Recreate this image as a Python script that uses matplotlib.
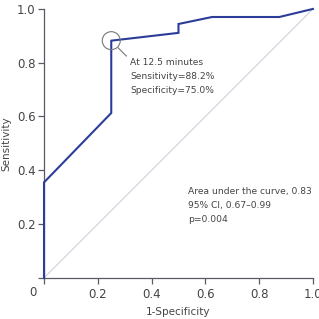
import matplotlib
matplotlib.use('Agg')
import matplotlib.pyplot as plt
from matplotlib.patches import Ellipse

# ROC curve points (1-specificity, sensitivity)
fpr = [0.0, 0.0, 0.25, 0.25, 0.5, 0.5, 0.625, 0.875, 1.0]
tpr = [0.0, 0.355, 0.613, 0.882, 0.911, 0.944, 0.970, 0.970, 1.0]

cut_x, cut_y = 0.25, 0.882
cut_text = ['At 12.5 minutes', 'Sensitivity=88.2%', 'Specificity=75.0%']
auc_text = ['Area under the curve, 0.83', '95% CI, 0.67\u20130.99', 'p=0.004']

x_ticks = [0, 0.2, 0.4, 0.6, 0.8, 1.0]
x_labels = ['', '0.2', '0.4', '0.6', '0.8', '1.0']
y_ticks = [0, 0.2, 0.4, 0.6, 0.8, 1.0]
y_labels = ['', '0.2', '0.4', '0.6', '0.8', '1.0']

plt.rc('font', family='DejaVu Sans', size=7)
txt_col = '#444444'
ax_col = '#5a5a66'

fig = plt.figure(figsize=(3.19, 3.19), dpi=100)
ax = fig.add_axes([0.138, 0.129, 0.843, 0.843])

#  reference diagonal
ax.plot([0, 1], [0, 1], color='#c9cbd6', linewidth=0.7, zorder=1)
#  ROC curve
ax.plot(fpr, tpr, color='#2b3d99', linewidth=1.5, zorder=3,
        solid_joinstyle='miter', clip_on=False)

#  circle around cut-off point (9 px radius)
r = 9.0 / 269
ax.add_patch(Ellipse((cut_x, cut_y), 2 * r, 2 * r, fill=False,
                     edgecolor='#777777', linewidth=0.8, zorder=4))
ax.plot([cut_x + 0.026, cut_x + 0.056], [cut_y - 0.027, cut_y - 0.057],
        color='#777777', linewidth=0.8)

for i, s in enumerate(cut_text):
    ax.text(0.32, 0.802 - i * 0.052, s, color=txt_col, fontsize=6.6,
            va='center', ha='left')
for i, s in enumerate(auc_text):
    ax.text(0.535, 0.32 - i * 0.052, s, color=txt_col, fontsize=6.6,
            va='center', ha='left')

ax.set_xlim(0, 1)
ax.set_ylim(0, 1)
ax.set_xticks(x_ticks)
ax.set_xticklabels(x_labels)
ax.set_yticks(y_ticks)
ax.set_yticklabels(y_labels)
ax.text(-0.04, -0.056, '0', color=txt_col, fontsize=8.5, ha='center',
        va='center', transform=ax.transData, clip_on=False)

for side in ['top', 'right']:
    ax.spines[side].set_visible(False)
for side in ['left', 'bottom']:
    ax.spines[side].set_color(ax_col)
    ax.spines[side].set_linewidth(0.9)
ax.tick_params(colors=ax_col, labelcolor=txt_col, labelsize=8.5,
               length=4, width=0.9, direction='out')
ax.tick_params(axis='x', pad=3.5)
ax.tick_params(axis='y', pad=2)

ax.set_xlabel('1-Specificity', color=txt_col, fontsize=7.5, labelpad=4)
ax.set_ylabel('Sensitivity', color=txt_col, fontsize=7.5, labelpad=4)

fig.savefig('out.png', dpi=100)
plt.close()
